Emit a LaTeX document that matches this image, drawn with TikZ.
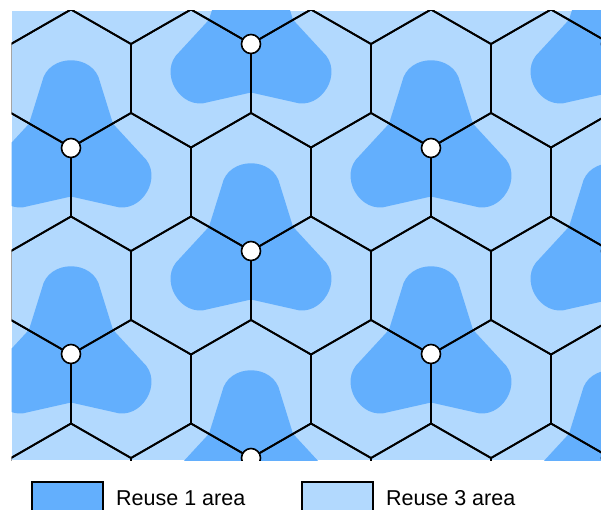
\documentclass[tikz,border=0pt]{standalone}
\usepackage{fontspec}
\setmainfont{Liberation Sans}
\usepackage{tikz}
\definecolor{reuseone}{HTML}{63AFFD}
\definecolor{reusethree}{HTML}{B2D9FE}

\begin{document}
\begin{tikzpicture}[
    x=1pt,y=-1pt,
    every node/.style={font=\fontsize{21.5}{24}\selectfont},
    cell/.style={draw=black,line width=1.8pt,line join=miter},
    site/.style={circle,draw=black,fill=white,line width=1.6pt,
                 minimum size=19pt,inner sep=0pt},
    keybox/.style={draw=black,line width=1.5pt,minimum width=71pt,
                   minimum height=40pt,inner sep=0pt},
    lobes/.pic={
      \foreach \a in {0,120,240}
        \fill[reuseone,rotate=\a] (-29,-66) .. controls (-23,-95) and (23,-95) .. (29,-66)
          -- (48,-5) -- (0,15) -- (-48,-5) -- cycle;
    }
  ]
    \useasboundingbox (0,0) rectangle (601,509);
    \begin{scope}
      \clip (11.5,10.5) rectangle (601,460);
      \fill[reusethree] (11.5,10.5) rectangle (601,460);
      \foreach \x/\y in {71/148,251/44,431/148,251/251,611/44,
                         71/354,431/354,251/458,611/251,611/458}
        \pic at (\x,\y) {lobes};
      \foreach \r in {0,...,5}
        \foreach \k in {0,...,5}{
          \pgfmathsetmacro\cx{11+60*mod(\r,2)+120*\k}
          \pgfmathsetmacro\cy{-25+103.5*\r}
          \draw[cell] (\cx,\cy) +(60,-34.5) -- +(0,-69) -- +(-60,-34.5)
            -- +(-60,34.5) -- +(0,69) -- +(60,34.5) -- cycle;
        }
      \foreach \x/\y [count=\i] in {71/148,251/44,431/148,251/251,611/44,
                                    71/354,431/354,251/458,611/251,611/458}
        \node[site] (site\i) at (\x,\y) {};
    \end{scope}
    \node[keybox,fill=reuseone,anchor=north west] (keyone) at (31,481) {};
    \node[anchor=base west,inner sep=0pt] (labelone) at (116,505.5) {Reuse 1 area};
    \node[keybox,fill=reusethree,anchor=north west] (keythree) at (301,481) {};
    \node[anchor=base west,inner sep=0pt] (labelthree) at (386,505.5) {Reuse 3 area};
\end{tikzpicture}
\end{document}
